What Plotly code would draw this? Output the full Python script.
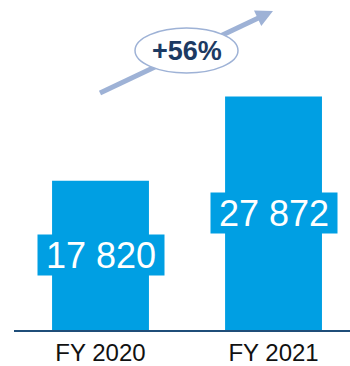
import plotly.graph_objects as go

# Revenue by fiscal year
years = ["FY 2020", "FY 2021"]
revenue = [17820, 27872]
growth_label = "+56%"

BAR_BLUE = "#009FE3"
AXIS_NAVY = "#1F4E79"
ARROW_GREY = "#9EB2D6"
TEXT_NAVY = "#1C3A63"

W, H = 350, 366
ML, MB, MT, MR = 14, 36, 0, 0
PW, PH = W - ML - MR, H - MT - MB


def px(x):
    return (x - ML) / PW


def py(y):
    return (H - MB - y) / PH


fig = go.Figure()
fig.add_trace(go.Bar(
    x=years, y=revenue, marker_color=BAR_BLUE, width=0.56,
    marker_line_width=0, hoverinfo="skip",
))

# value labels on a filled box centred in each bar
for yr, v in zip(years, revenue):
    fig.add_annotation(
        x=yr, y=v / 2, xref="x", yref="y",
        xanchor="center", yanchor="middle",
        text=f"{v:,}".replace(",", " "), showarrow=False,
        font=dict(family="Liberation Sans, Arial", size=36, color="white"),
        bgcolor=BAR_BLUE, borderpad=0, width=126, height=40,
    )

# growth arrow: shaft, head, then ellipse badge on top
x0, y0, x1, y1 = 100, 93, 273, 11
dx, dy = x1 - x0, y1 - y0
L = (dx ** 2 + dy ** 2) ** 0.5
ux, uy = dx / L, dy / L
nx, ny = -uy, ux
head_len, head_half = 17, 8.5
bx, by = x1 - head_len * ux, y1 - head_len * uy

shapes = [
    dict(type="line", xref="paper", yref="paper",
         x0=px(x0), y0=py(y0), x1=px(bx + 2 * ux), y1=py(by + 2 * uy),
         line=dict(color=ARROW_GREY, width=5)),
    dict(type="path", xref="paper", yref="paper",
         path=(f"M {px(x1)} {py(y1)} "
               f"L {px(bx + head_half * nx)} {py(by + head_half * ny)} "
               f"L {px(bx - head_half * nx)} {py(by - head_half * ny)} Z"),
         fillcolor=ARROW_GREY, line=dict(width=0)),
    dict(type="circle", xref="paper", yref="paper",
         x0=px(135), x1=px(238), y0=py(73), y1=py(28),
         fillcolor="white", line=dict(color=ARROW_GREY, width=1.5)),
]

fig.add_annotation(
    x=px(187), y=py(51), xref="paper", yref="paper",
    xanchor="center", yanchor="middle",
    text=f"<b>{growth_label}</b>", showarrow=False,
    font=dict(family="Liberation Sans, Arial", size=27, color=TEXT_NAVY),
)

fig.update_layout(
    width=W, height=H,
    margin=dict(l=ML, r=MR, t=MT, b=MB, pad=0),
    paper_bgcolor="white", plot_bgcolor="white",
    showlegend=False, shapes=shapes,
    xaxis=dict(
        type="category", range=[-0.5, 1.442],
        showline=True, linecolor=AXIS_NAVY, linewidth=2,
        showgrid=False, zeroline=False, ticks="",
        tickfont=dict(family="Liberation Sans, Arial", size=24, color="#111111"),
    ),
    yaxis=dict(range=[0, 39400], visible=False, showgrid=False),
)

fig.write_html("out.html")
